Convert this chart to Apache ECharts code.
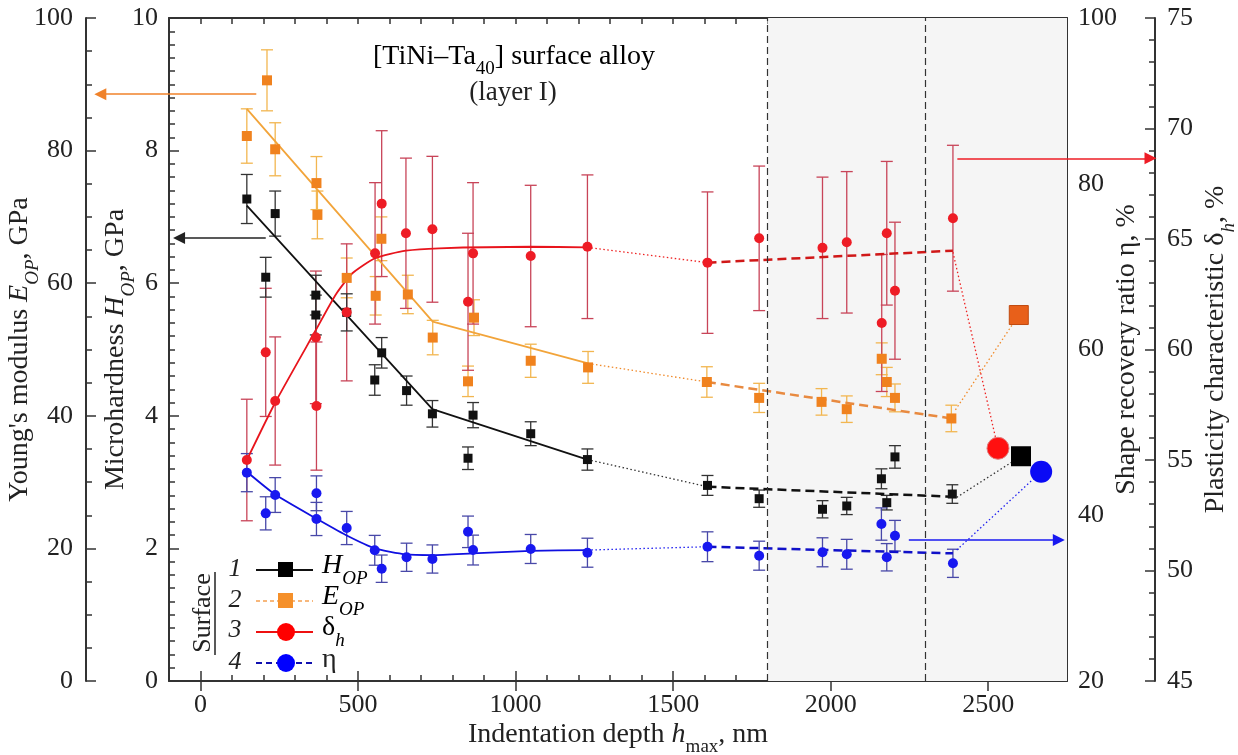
<!DOCTYPE html>
<html>
<head>
<meta charset="utf-8">
<script src="https://cdn.jsdelivr.net/npm/echarts/dist/echarts.min.js"></script>
<style>
  html, body { margin: 0; padding: 0; background: #fff; }
  #chart { width: 1238px; height: 755px; }
</style>
</head>
<body>
<div id="chart"></div>
<script>
// ---- data: [depth nm, value, error] ----
const hPoints = [
  [147, 7.27, 0.37], [207, 6.09, 0.30], [237, 7.05, 0.34], [366, 5.82, 0.30], [366, 5.52, 0.30],
  [464, 5.56, 0.28], [553, 4.54, 0.23], [575, 4.95, 0.23], [654, 4.38, 0.22], [736, 4.03, 0.20],
  [849, 3.36, 0.17], [865, 4.01, 0.19], [1048, 3.73, 0.18], [1228, 3.34, 0.16], [1609, 2.95, 0.15],
  [1773, 2.75, 0.13], [1974, 2.59, 0.13], [2051, 2.64, 0.13], [2161, 3.05, 0.15], [2178, 2.69, 0.11],
  [2204, 3.38, 0.17], [2386, 2.82, 0.14]
]
const ePoints = [
  [147, 82.2, 4.1], [211, 90.6, 4.6], [237, 80.2, 4.0], [368, 75.1, 4.0], [371, 70.3, 3.6],
  [464, 60.8, 3.0], [556, 58.1, 2.9], [574, 66.7, 3.3], [658, 58.3, 2.9], [737, 51.8, 2.6],
  [849, 45.2, 2.3], [868, 54.8, 2.7], [1048, 48.3, 2.5], [1230, 47.3, 2.4], [1607, 45.1, 2.3],
  [1773, 42.7, 2.2], [1971, 42.1, 2.0], [2051, 41.0, 2.0], [2162, 48.6, 2.4], [2178, 45.1, 2.2],
  [2204, 42.7, 2.1], [2383, 39.6, 2.0]
]
const dPoints = [
  [147, 55.0, 2.75], [207, 59.87, 2.9], [237, 57.67, 2.9], [366, 60.55, 3.0], [368, 57.44, 2.9],
  [464, 61.68, 3.1], [554, 64.35, 3.2], [575, 66.6, 3.3], [652, 65.26, 3.4], [736, 65.44, 3.3],
  [849, 62.16, 3.1], [865, 64.35, 3.2], [1048, 64.23, 3.2], [1228, 64.65, 3.25], [1609, 63.93, 3.2],
  [1773, 65.03, 3.27], [1974, 64.6, 3.2], [2051, 64.85, 3.2], [2162, 61.2, 3.1], [2178, 65.26, 3.25],
  [2204, 62.66, 3.1], [2388, 65.94, 3.3]
]
const etaPoints = [
  [147, 45.14, 2.3], [207, 40.23, 2.0], [237, 42.44, 2.1], [368, 42.65, 2.1], [368, 39.55, 2.0],
  [464, 38.46, 2.0], [553, 35.77, 1.8], [575, 33.55, 1.65], [654, 34.93, 1.7], [736, 34.72, 1.7],
  [849, 38.0, 1.9], [865, 35.8, 1.8], [1048, 35.93, 1.75], [1228, 35.48, 1.75], [1609, 36.2, 1.8],
  [1773, 35.12, 1.75], [1974, 35.53, 1.75], [2051, 35.29, 1.8], [2161, 38.94, 1.95], [2178, 34.93, 1.65],
  [2204, 37.53, 1.85], [2388, 34.2, 1.7]
]

// fitted curves in layer I
const hFit = [[147, 7.17], [736, 4.1], [1228, 3.34]]
const eFit = [[147, 86.3], [737, 54.2], [1230, 47.9]]
const dFit = [[147, 55.0], [236, 57.57], [366, 60.88], [430, 62.5], [482, 63.45], [554, 64.13], [652, 64.47], [757, 64.58], [1048, 64.65], [1228, 64.62]]
const etaFit = [[147, 45.25], [236, 42.53], [366, 39.63], [461, 37.62], [554, 36.0], [652, 35.28], [736, 35.2], [863, 35.4], [1048, 35.7], [1228, 35.8]]

// dotted links, dashed trends in sublayers, dotted links to surface values
const hLink = [[1228, 3.34], [1609, 2.93]]
const hTrend = [[1609, 2.93], [2386, 2.78]]
const hToSurface = [[2400, 2.77], [2604, 3.39]]
const eLink = [[1230, 47.9], [1607, 45.1]]
const eTrend = [[1607, 45.1], [2383, 39.6]]
const eToSurface = [[2396, 40.9], [2597, 55.2]]
const dLink = [[1228, 64.62], [1609, 63.93]]
const dTrend = [[1609, 63.93], [2388, 64.47]]
const dToSurface = [[2388, 64.4], [2531, 55.53]]
const etaLink = [[1228, 35.8], [1609, 36.2]]
const etaTrend = [[1609, 36.2], [2388, 35.4]]
const etaToSurface = [[2400, 35.8], [2668, 45.25]]

// surface values (large symbols)
const hSurface = [[2604, 3.39]]
const eSurface = [[2597, 55.2]]
const dSurface = [[2531, 55.53]]
const etaSurface = [[2668, 45.25]]

// arrows pointing to the axis of each quantity
const eArrow = [[177, 88.5], [-318, 88.5]]
const hArrow = [[207, 6.68], [-68, 6.68]]
const dArrow = [[2402, 68.65], [3015, 68.65]]
const etaArrow = [[2248, 37.0], [2724, 37.0]]

const sublayerBounds = [1800, 2300]
const xMajorTicks = [0, 500, 1000, 1500, 2000, 2500]

const font = "'Liberation Serif', 'Times New Roman', serif"
const ink = '#222'

const rich = {
  n: { fontFamily: font, fontSize: 28, color: ink, verticalAlign: 'top', lineHeight: 30 },
  i: { fontFamily: font, fontSize: 28, color: ink, fontStyle: 'italic', verticalAlign: 'top', lineHeight: 30 },
  s: { fontFamily: font, fontSize: 19, color: ink, fontStyle: 'italic', verticalAlign: 'top', lineHeight: 19, padding: [17, 0, 0, 0] },
  sr: { fontFamily: font, fontSize: 19, color: ink, verticalAlign: 'top', lineHeight: 19, padding: [17, 0, 0, 0] }
}

function lineSeries(data, yIdx, color, width, type, smooth) {
  return {
    type: 'line', data: data, xAxisIndex: 0, yAxisIndex: yIdx,
    symbol: 'none', smooth: smooth || false, silent: true, z: 3,
    lineStyle: { color: color, width: width, type: type }
  }
}

function errorSeries(data, yIdx, color) {
  return {
    type: 'custom', data: data, xAxisIndex: 0, yAxisIndex: yIdx, silent: true, z: 2,
    encode: { x: 0, y: 1 },
    renderItem: function(params, api) {
      const x = api.value(0)
      const y = api.value(1)
      const e = api.value(2)
      const top = api.coord([x, y + e])
      const bot = api.coord([x, y - e])
      const hw = 6
      const style = { stroke: color, lineWidth: 1.3 }
      return {
        type: 'group',
        children: [
          { type: 'line', shape: { x1: top[0], y1: top[1], x2: bot[0], y2: bot[1] }, style: style },
          { type: 'line', shape: { x1: top[0] - hw, y1: top[1], x2: top[0] + hw, y2: top[1] }, style: style },
          { type: 'line', shape: { x1: bot[0] - hw, y1: bot[1], x2: bot[0] + hw, y2: bot[1] }, style: style }
        ]
      }
    }
  }
}

function pointSeries(data, yIdx, symbol, size, color, border) {
  return {
    type: 'scatter', data: data.map(d => [d[0], d[1]]), xAxisIndex: 0, yAxisIndex: yIdx,
    symbol: symbol, symbolSize: size, silent: true, z: 5, clip: false,
    itemStyle: { color: color, opacity: 1, borderColor: border || color, borderWidth: border ? 1 : 0 }
  }
}

function arrowSeries(data, yIdx, color) {
  return {
    type: 'lines', coordinateSystem: 'cartesian2d', xAxisIndex: 0, yAxisIndex: yIdx,
    clip: false, silent: true, z: 6,
    symbol: ['none', 'triangle'], symbolSize: 12,
    lineStyle: { color: color, width: 1.6, opacity: 1, curveness: 0 },
    data: [{ coords: data }]
  }
}

const dotted = [1.5, 2.5]
const dashed = [9, 5]

const yBase = {
  type: 'value',
  nameLocation: 'middle',
  nameRotate: 90,
  nameMoveOverlap: false,
  axisLine: { show: true, onZero: false, lineStyle: { color: '#333', width: 2 } },
  axisTick: { show: true, inside: true, length: 10, lineStyle: { color: '#333', width: 1.5 } },
  minorTick: { show: true, length: 6, lineStyle: { color: '#333', width: 1.5 } },
  axisLabel: { fontFamily: font, fontSize: 26, color: ink, margin: 11 },
  splitLine: { show: false },
  minorSplitLine: { show: false }
}

function yAxis(extra) {
  const ax = JSON.parse(JSON.stringify(yBase))
  Object.keys(extra).forEach(k => {
    if (typeof extra[k] === 'object' && !Array.isArray(extra[k]) && ax[k]) {
      Object.assign(ax[k], extra[k])
    } else {
      ax[k] = extra[k]
    }
  })
  return ax
}

const xBase = {
  type: 'value', min: -100, max: 2750, interval: 100,
  axisLine: { show: true, onZero: false, lineStyle: { color: '#333', width: 2 } },
  axisTick: { show: true, inside: true, length: 6, lineStyle: { color: '#333', width: 1.5 } },
  axisLabel: { show: false },
  splitLine: { show: false }
}

function label(text, x, y, size, italic) {
  return {
    type: 'text', x: x, y: y,
    style: { text: text, font: (italic ? 'italic ' : '') + size + 'px ' + font, fill: ink, align: 'center', verticalAlign: 'middle' }
  }
}

const option = {
  animation: false,
  backgroundColor: '#fff',
  grid: { left: 169, right: 171, top: 18, bottom: 74, containLabel: false, outerBoundsMode: 'none' },
  xAxis: [
    Object.assign({}, xBase, {
      position: 'bottom',
      axisLabel: {
        show: true, fontFamily: font, fontSize: 26, color: ink, margin: 11,
        formatter: v => (xMajorTicks.indexOf(v) >= 0 ? String(v) : '')
      },
      name: '{n|Indentation depth }{i|h}{sr|max}{n|, nm}',
      nameLocation: 'middle', nameGap: 40, nameMoveOverlap: false,
      nameTextStyle: { rich: rich }
    }),
    Object.assign({}, xBase, {
      position: 'bottom', axisLine: { show: false },
      axisTick: { show: true, inside: true, length: 10, customValues: xMajorTicks, lineStyle: { color: '#333', width: 1.5 } }
    }),
    Object.assign({}, xBase, { position: 'top' }),
    Object.assign({}, xBase, {
      position: 'top', axisLine: { show: false },
      axisTick: { show: true, inside: true, length: 10, customValues: xMajorTicks, lineStyle: { color: '#333', width: 1.5 } }
    })
  ],
  yAxis: [
    yAxis({
      position: 'left', min: 0, max: 10, interval: 2, minorTick: { splitNumber: 10 },
      name: '{n|Microhardness }{i|H}{s|OP}{n|, GPa}', nameGap: 37, nameTextStyle: { rich: rich }
    }),
    yAxis({
      position: 'left', offset: 83, min: 0, max: 100, interval: 20, minorTick: { splitNumber: 4 },
      axisLabel: { margin: 13 },
      name: '{n|Young\'s modulus }{i|E}{s|OP}{n|, GPa}', nameGap: 50, nameTextStyle: { rich: rich }
    }),
    yAxis({
      position: 'right', min: 20, max: 100, interval: 20, minorTick: { splitNumber: 10 },
      name: '{n|Shape recovery ratio η, %}', nameGap: 46, nameTextStyle: { rich: rich }
    }),
    yAxis({
      position: 'right', offset: 88, min: 45, max: 75, interval: 5, minorTick: { splitNumber: 5 },
      axisLabel: { margin: 12 },
      name: '{n|Plasticity characteristic δ}{s|h}{n|, %}', nameGap: 47, nameTextStyle: { rich: rich }
    })
  ],
  series: [
    {
      type: 'line', data: [], xAxisIndex: 0, yAxisIndex: 0, silent: true, z: 0,
      markArea: {
        silent: true,
        itemStyle: { color: '#f5f5f5' },
        data: [[{ xAxis: sublayerBounds[0] }, { xAxis: 2750 }]]
      },
      markLine: {
        silent: true, symbol: 'none', label: { show: false },
        lineStyle: { color: '#333', width: 1.2, type: [7, 4] },
        data: sublayerBounds.map(v => ({ xAxis: v }))
      }
    },
    errorSeries(ePoints, 1, '#f2b650'),
    errorSeries(dPoints, 3, '#c84458'),
    errorSeries(hPoints, 0, '#333'),
    errorSeries(etaPoints, 2, '#4848a8'),

    lineSeries(eFit, 1, '#f2a43a', 1.8, 'solid'),
    lineSeries(eLink, 1, '#f08a2a', 1.3, dotted),
    lineSeries(eTrend, 1, '#e88a40', 2.5, dashed),
    lineSeries(eToSurface, 1, '#f08a2a', 1.3, dotted),

    lineSeries(hFit, 0, '#111', 1.8, 'solid'),
    lineSeries(hLink, 0, '#333', 1.3, dotted),
    lineSeries(hTrend, 0, '#111', 2.5, dashed),
    lineSeries(hToSurface, 0, '#333', 1.3, dotted),

    lineSeries(dFit, 3, '#e8141c', 1.8, 'solid', 0.2),
    lineSeries(dLink, 3, '#ee2020', 1.3, dotted),
    lineSeries(dTrend, 3, '#d01818', 2.5, dashed),
    lineSeries(dToSurface, 3, '#ee2020', 1.3, dotted),

    lineSeries(etaFit, 2, '#1010e0', 1.8, 'solid', 0.2),
    lineSeries(etaLink, 2, '#2020f0', 1.3, dotted),
    lineSeries(etaTrend, 2, '#1010c8', 2.5, dashed),
    lineSeries(etaToSurface, 2, '#2020f0', 1.3, dotted),

    pointSeries(ePoints, 1, 'rect', 10, '#f0821e'),
    pointSeries(hPoints, 0, 'rect', 9, '#111'),
    pointSeries(dPoints, 3, 'circle', 10, '#ee1c25'),
    pointSeries(etaPoints, 2, 'circle', 10, '#1818f0'),

    pointSeries(eSurface, 1, 'rect', 19, '#e8601a', '#c04a10'),
    pointSeries(dSurface, 3, 'circle', 22, '#ff1010', '#e08080'),
    pointSeries(hSurface, 0, 'rect', 20, '#000'),
    pointSeries(etaSurface, 2, 'circle', 22, '#0a0af5'),

    arrowSeries(eArrow, 1, '#f0822a'),
    arrowSeries(hArrow, 0, '#222'),
    arrowSeries(dArrow, 3, '#ee1c25'),
    arrowSeries(etaArrow, 2, '#1818f0')
  ],
  graphic: [
    // region captions
    { type: 'text', x: 514, y: 58, style: { text: '{n|[TiNi–Ta}{sr|40}{n|] surface alloy}', rich: rich, align: 'center', verticalAlign: 'middle' } },
    label('(layer I)', 513, 93, 27),
    label('Sublayer', 849, 58, 27),
    label('II', 849, 89, 27),
    label('Sublayer', 990, 58, 27),
    label('III', 990, 89, 27),
    // curve numbers
    label('1', 972, 470, 26, true),
    label('2', 999, 365, 26, true),
    label('3', 980, 297, 26, true),
    label('4', 1013, 521, 26, true),
    // legend
    { type: 'text', x: 203, y: 613, rotation: Math.PI / 2, style: { text: 'Surface', font: '26px ' + font, fill: ink, align: 'center', verticalAlign: 'middle' } },
    { type: 'line', shape: { x1: 215, y1: 572, x2: 215, y2: 655 }, style: { stroke: ink, lineWidth: 1.5 } },

    label('1', 235, 569, 26, true),
    { type: 'line', shape: { x1: 256, y1: 570, x2: 313, y2: 570 }, style: { stroke: '#111', lineWidth: 1.8 } },
    { type: 'rect', shape: { x: 278, y: 562, width: 15, height: 15 }, style: { fill: '#000' } },
    { type: 'text', x: 322, y: 567, style: { text: '{i|H}{s|OP}', rich: rich, verticalAlign: 'middle' } },

    label('2', 235, 600, 26, true),
    { type: 'line', shape: { x1: 256, y1: 601, x2: 313, y2: 601 }, style: { stroke: '#f5a050', lineWidth: 1.5, lineDash: [4, 3] } },
    { type: 'rect', shape: { x: 278, y: 593, width: 15, height: 15 }, style: { fill: '#f5902a' } },
    { type: 'text', x: 322, y: 598, style: { text: '{i|E}{s|OP}', rich: rich, verticalAlign: 'middle' } },

    label('3', 235, 630, 26, true),
    { type: 'line', shape: { x1: 256, y1: 632, x2: 313, y2: 632 }, style: { stroke: '#ee1010', lineWidth: 1.8 } },
    { type: 'circle', shape: { cx: 286, cy: 632, r: 9 }, style: { fill: '#ff0000' } },
    { type: 'text', x: 322, y: 629, style: { text: '{n|δ}{s|h}', rich: rich, verticalAlign: 'middle' } },

    label('4', 235, 662, 26, true),
    { type: 'line', shape: { x1: 256, y1: 663, x2: 313, y2: 663 }, style: { stroke: '#1010b0', lineWidth: 1.8, lineDash: [6, 4] } },
    { type: 'circle', shape: { cx: 286, cy: 663, r: 9 }, style: { fill: '#0000ff' } },
    { type: 'text', x: 322, y: 660, style: { text: 'η', font: '28px ' + font, fill: ink, verticalAlign: 'middle' } }
  ]
}

const chart = echarts.init(document.getElementById('chart'))
chart.setOption(option)
</script>
</body>
</html>
